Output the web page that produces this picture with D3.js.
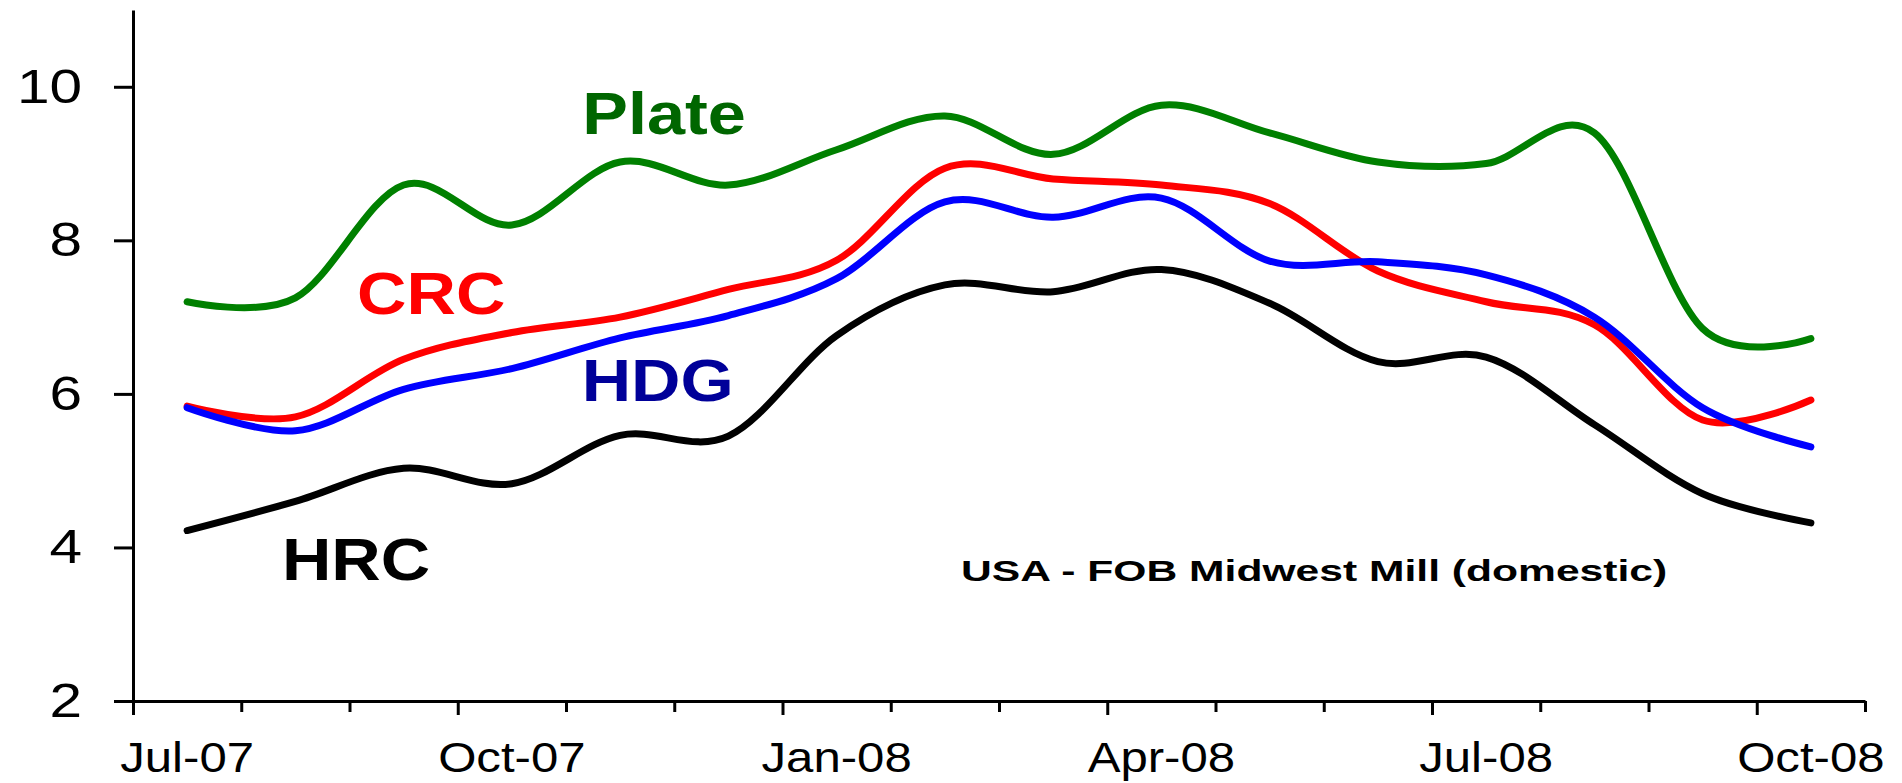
<!DOCTYPE html>
<html>
<head>
<meta charset="utf-8">
<script src="https://cdn.jsdelivr.net/npm/d3@7"></script>
<style>
  body { margin: 0; background: #fff; }
  svg { display: block; font-family: "Liberation Sans", Arial, Helvetica, sans-serif; }
</style>
</head>
<body>
<svg id="chart"></svg>
<script>
// Chart size
const width = 1902;
const height = 783;

// Monthly prices (USD / lb style index), Jul-07 .. Oct-08
const months = ["Jul-07", "Aug-07", "Sep-07", "Oct-07", "Nov-07", "Dec-07", "Jan-08", "Feb-08",
  "Mar-08", "Apr-08", "May-08", "Jun-08", "Jul-08", "Aug-08", "Sep-08", "Oct-08"];
const labelMonths = ["Jul-07", "Oct-07", "Jan-08", "Apr-08", "Jul-08", "Oct-08"];
const yTicks = [2, 4, 6, 8, 10];

const plate = [7.2, 7.25, 8.72, 8.2, 9.02, 8.72, 9.18, 9.62, 9.12, 9.76, 9.4, 9.02, 9.0, 9.4, 6.85, 6.72];
const crc = [5.84, 5.7, 6.45, 6.8, 7.0, 7.36, 7.74, 8.94, 8.8, 8.72, 8.48, 7.6, 7.2, 6.9, 5.66, 5.92];
const hdg = [5.82, 5.52, 6.06, 6.33, 6.73, 7.02, 7.5, 8.5, 8.3, 8.55, 7.73, 7.72, 7.55, 7.0, 5.82, 5.31];
const hrc = [4.22, 4.6, 5.03, 4.83, 5.46, 5.45, 6.76, 7.42, 7.33, 7.62, 7.18, 6.42, 6.48, 5.6, 4.7, 4.32];

const series = [
  { name: "Plate", values: plate, color: "#008000" },
  { name: "CRC", values: crc, color: "#ff0000" },
  { name: "HDG", values: hdg, color: "#0000ff" },
  { name: "HRC", values: hrc, color: "#000000" }
];

// in-chart annotations, placed in month-index / value space
const notes = [
  { text: "Plate", at: 4.15, v: 9.39, color: "#006600", size: 59 },
  { text: "CRC", at: 2.07, v: 7.04, color: "#ff0000", size: 59 },
  { text: "HDG", at: 4.145, v: 5.91, color: "#000099", size: 59 },
  { text: "HRC", at: 1.376, v: 3.58, color: "#000000", size: 59 },
  { text: "USA - FOB Midwest Mill (domestic)", at: 7.65, v: 3.56, color: "#000000", size: 30 }
];

const svg = d3.select("#chart")
  .attr("width", width)
  .attr("height", height);

svg.append("rect").attr("width", width).attr("height", height).attr("fill", "#fff");

// Scales
const x = d3.scaleBand().domain(months).range([133, 1865]).padding(0);
const xEdge = d3.scaleLinear().domain([0, months.length]).range([133, 1865]);
const y = d3.scaleLinear().domain([2, 11]).range([701, 10]);
const xc = i => x(months[i]) + x.bandwidth() / 2;

// stretch text horizontally like the source picture
function stretch(sel, k) {
  sel.each(function () {
    const w = this.getComputedTextLength();
    d3.select(this).attr("textLength", w * k).attr("lengthAdjust", "spacingAndGlyphs");
  });
}

// Lines
const line = d3.line()
  .x((d, i) => xc(i))
  .y(d => y(d))
  .curve(d3.curveCardinal.tension(0));

svg.selectAll(".series")
  .data(series)
  .enter()
  .append("path")
  .attr("class", "series")
  .attr("d", d => line(d.values))
  .attr("fill", "none")
  .attr("stroke", d => d.color)
  .attr("stroke-width", 7)
  .attr("stroke-linejoin", "round")
  .attr("stroke-linecap", "round");

// X axis: ticks on month boundaries
const xAxis = svg.append("g")
  .attr("transform", `translate(0, ${y(2)})`)
  .call(d3.axisBottom(xEdge).tickValues(d3.range(months.length + 1)).tickSize(11).tickSizeOuter(0).tickFormat(""));
xAxis.selectAll(".tick line").attr("y2", d => d % 3 === 0 ? 14 : 11);

// X labels centred in each month band
const xLab = svg.append("g")
  .attr("transform", `translate(0, ${y(2)})`)
  .call(d3.axisBottom(x).tickValues(labelMonths).tickSize(0).tickPadding(41));
xLab.select(".domain").remove();
xLab.selectAll("text")
  .attr("font-size", 42)
  .attr("font-family", null)
  .attr("fill", "#000")
  .call(stretch, 1.17);

// Y axis
const yAxis = svg.append("g")
  .attr("transform", `translate(${xEdge(0)}, 0)`)
  .call(d3.axisLeft(y).tickValues(yTicks).tickSize(19).tickSizeOuter(0).tickPadding(32));
yAxis.selectAll("text")
  .attr("font-size", 48)
  .attr("font-family", null)
  .attr("fill", "#000")
  .call(stretch, 1.22);

svg.selectAll(".domain, .tick line")
  .attr("stroke", "#000")
  .attr("stroke-width", 3);

// Annotations
svg.selectAll(".note")
  .data(notes)
  .enter()
  .append("text")
  .attr("class", "note")
  .attr("x", d => xEdge(d.at))
  .attr("y", d => y(d.v))
  .attr("fill", d => d.color)
  .attr("font-size", d => d.size)
  .attr("font-weight", "bold")
  .text(d => d.text)
  .each(function (d) {
    d3.select(this).call(stretch, d.size > 40 ? 1.16 : 1.42);
  });
</script>
</body>
</html>
